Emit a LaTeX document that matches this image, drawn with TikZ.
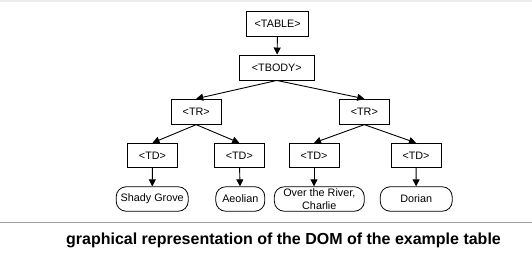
\documentclass[tikz,border=0pt]{standalone}
\usepackage{fontspec}
\setmainfont{Liberation Sans}
\usetikzlibrary{arrows.meta}

\begin{document}
\begin{tikzpicture}[x=1pt, y=-1pt,
    tag/.style={draw, line width=0.9pt, minimum height=25pt, inner sep=1pt, font=\fontsize{10.8}{12}\selectfont},
    leaf/.style={draw, line width=0.8pt, rounded corners=10pt, minimum height=24.5pt, inner sep=1pt, font=\fontsize{10.8}{12.5}\selectfont, align=center},
    link/.style={-{Triangle[length=7pt, width=7pt]}, line width=0.9pt}]
    \useasboundingbox (0, 0) rectangle (532, 256);

    \draw[line width=1.2pt, black!8] (0, 1) -- (532, 1);
    \draw[line width=1.5pt, black!38] (0, 222.5) -- (532, 222.5);

    \node[tag, minimum width=62pt](n0) at (277.7, 23.5) {<TABLE>};
    \node[tag, minimum width=75pt](n1) at (276.8, 67.5) {<TBODY>};

    \node[tag, minimum width=50pt](r0) at (196.2, 111.7) {<TR>};
    \node[tag, minimum width=50pt](r1) at (364.3, 111.7) {<TR>};

    \node[tag, minimum width=50pt, minimum height=24.4pt](d0) at (152.5, 155.5) {<TD>};
    \node[tag, minimum width=50pt, minimum height=24.4pt](d1) at (239.3, 155.5) {<TD>};
    \node[tag, minimum width=50pt, minimum height=24.4pt](d2) at (314.0, 155.5) {<TD>};
    \node[tag, minimum width=50pt, minimum height=24.4pt](d3) at (416.0, 155.5) {<TD>};

    \node[leaf, minimum width=72pt](v0) at (152.2, 199) {Shady Grove};
    \node[leaf, minimum width=49pt](v1) at (240.3, 199) {Aeolian};
    \node[leaf, minimum width=90pt](v2) at (319.3, 199) {Over the River,\\Charlie};
    \node[leaf, minimum width=72pt](v3) at (416.2, 199) {Dorian};

    \draw[link] (n0) to (n1);
    \draw[link] (n1.south) to (r0.north);
    \draw[link] (n1.south) to (r1.north);
    \draw[link] (r0.south) to (d0.north);
    \draw[link] (r0.south) to (d1.north);
    \draw[link] (r1.south) to (d2.north);
    \draw[link] (r1.south) to (d3.north);
    \draw[link] (d0) to (v0);
    \draw[link] (d1) to (v1);
    \draw[link] (d2.south) to (d2.south |- v2.north);
    \draw[link] (d3) to (v3);

    \node(cap) at (283.5, 240.5) {\fontsize{16}{18}\selectfont\bfseries graphical representation of the DOM of the example table};
\end{tikzpicture}
\end{document}
